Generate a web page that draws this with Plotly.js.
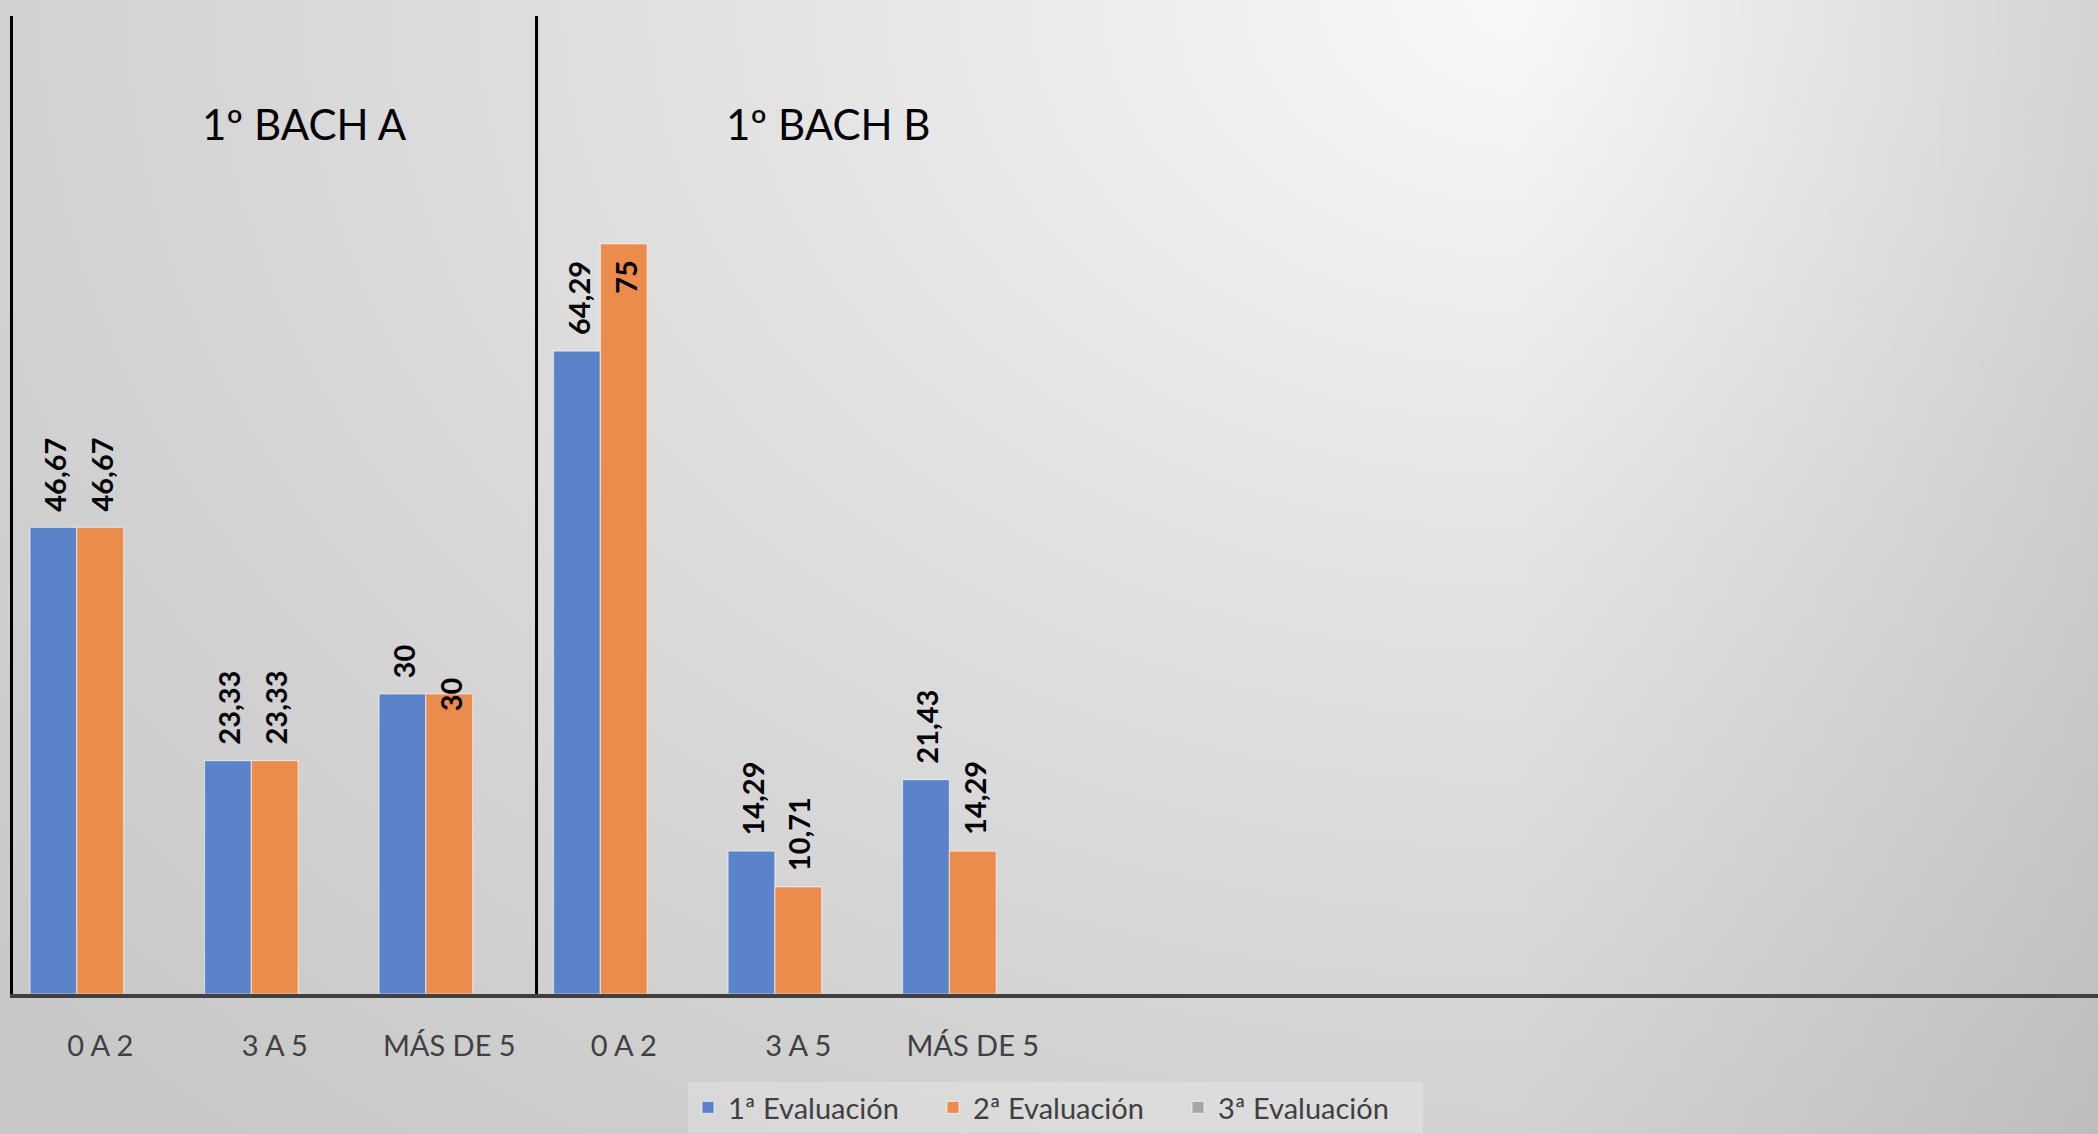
<!DOCTYPE html>
<html>
<head>
<meta charset="utf-8">
<script src="https://cdn.plot.ly/plotly-3.0.1.min.js"></script>
<style>
  html, body { margin: 0; padding: 0; }
  #chart {
    width: 2098px; height: 1134px;
    background:
      linear-gradient(to right, rgba(0,0,0,0) 72%, rgba(0,0,0,0.09) 100%),
      radial-gradient(ellipse 2000px 1500px at 1520px 0px, #f8f8f8 0%, #e3e3e3 38%, #d2d2d2 75%, #c8c8c8 100%);
  }
</style>
</head>
<body>
<div id="chart"></div>
<script>
// ---- data ----
const groups = ["1º BACH A", "1º BACH B"];
const categories = ["0 A 2", "3 A 5", "MÁS DE 5", "0 A 2", "3 A 5", "MÁS DE 5"];
const seriesNames = ["1ª Evaluación", "2ª Evaluación", "3ª Evaluación"];
const eval1 = [46.67, 23.33, 30, 64.29, 14.29, 21.43];
const eval2 = [46.67, 23.33, 30, 75, 10.71, 14.29];
const eval3 = [null, null, null, null, null, null];

// ---- styling ----
const colors = ["#5b83c9", "#eb8c4c", "#a5a5a5"];
const FONT = "Lato, 'Open Sans', sans-serif";
// label placement style per series/point ('above' | 'inside' | 'center')
const labelStyle = [
  ["above", "above", "above", "above", "above", "above"],
  ["above", "above", "center", "inside", "above", "above"],
  ["above", "above", "above", "above", "above", "above"]
];

const W = 2098, H = 1134;
const margin = {l: 13, r: 0, t: 16, b: 140};
const xRange = [-0.5, 11.448];
const yRange = [0, 97.8];
const bargap = 0.195;

const x = categories.map((c, i) => i);
const allSeries = [eval1, eval2, eval3];

const traces = allSeries.map((vals, s) => ({
  type: "bar",
  name: seriesNames[s],
  x: x,
  y: vals,
  marker: {color: colors[s], line: {color: "rgba(255,255,255,0.55)", width: 1.2}},
  hoverinfo: "skip"
}));

// pixel width of one bar, from the axis scale
const plotW = W - margin.l - margin.r;
const unitPx = plotW / (xRange[1] - xRange[0]);
const barPx = unitPx * (1 - bargap) / allSeries.length;

const annotations = [];
allSeries.forEach((vals, s) => {
  vals.forEach((v, i) => {
    if (v === null || v === undefined) return;
    const st = labelStyle[s][i];
    const a = {
      x: x[i], y: v, xref: "x", yref: "y",
      text: String(v).replace(".", ","),
      showarrow: false, textangle: -90,
      font: {family: FONT, size: 29, color: "#000000", weight: "bold"},
      xshift: (s - (allSeries.length - 1) / 2) * barPx + 1,
      xanchor: "center"
    };
    if (st === "above") { a.yanchor = "bottom"; a.yshift = 14; }
    else if (st === "inside") { a.yanchor = "top"; a.yshift = -14; }
    else { a.yanchor = "middle"; a.yshift = 0; }
    annotations.push(a);
  });
});

// group titles
const groupTitleX = [1.17, 4.17];
groups.forEach((g, k) => {
  annotations.push({
    x: groupTitleX[k], y: 0.8896, xref: "x", yref: "paper",
    text: g, showarrow: false, xanchor: "center", yanchor: "middle",
    font: {family: FONT, size: 42, color: "#000000"}
  });
});

const layout = {
  width: W, height: H,
  margin: margin,
  paper_bgcolor: "rgba(0,0,0,0)",
  plot_bgcolor: "rgba(0,0,0,0)",
  barmode: "group",
  bargap: bargap,
  bargroupgap: 0,
  showlegend: true,
  legend: {
    orientation: "h", x: 0.5, xanchor: "center", y: -0.09, yanchor: "top",
    bgcolor: "rgba(255,255,255,0.22)",
    font: {family: FONT, size: 29, color: "#404040"},
    entrywidth: 200, entrywidthmode: "pixels",
    itemclick: false, itemdoubleclick: false,
    traceorder: "normal"
  },
  xaxis: {
    type: "linear",
    range: xRange,
    tickvals: x,
    ticktext: categories,
    showgrid: false, zeroline: false,
    showline: true, linecolor: "#404040", linewidth: 4,
    ticks: "",
    ticklabelstandoff: 23,
    tickfont: {family: FONT, size: 29, color: "#404040"},
    fixedrange: true
  },
  yaxis: {
    range: yRange,
    showgrid: false, zeroline: false,
    showline: true, linecolor: "#000000", linewidth: 3,
    showticklabels: false, ticks: "",
    fixedrange: true
  },
  shapes: [{
    type: "line", xref: "x", yref: "paper",
    x0: 2.5, x1: 2.5, y0: 0, y1: 1,
    line: {color: "#000000", width: 3}
  }],
  annotations: annotations
};

Plotly.newPlot("chart", traces, layout, {staticPlot: true, displayModeBar: false});
</script>
</body>
</html>
